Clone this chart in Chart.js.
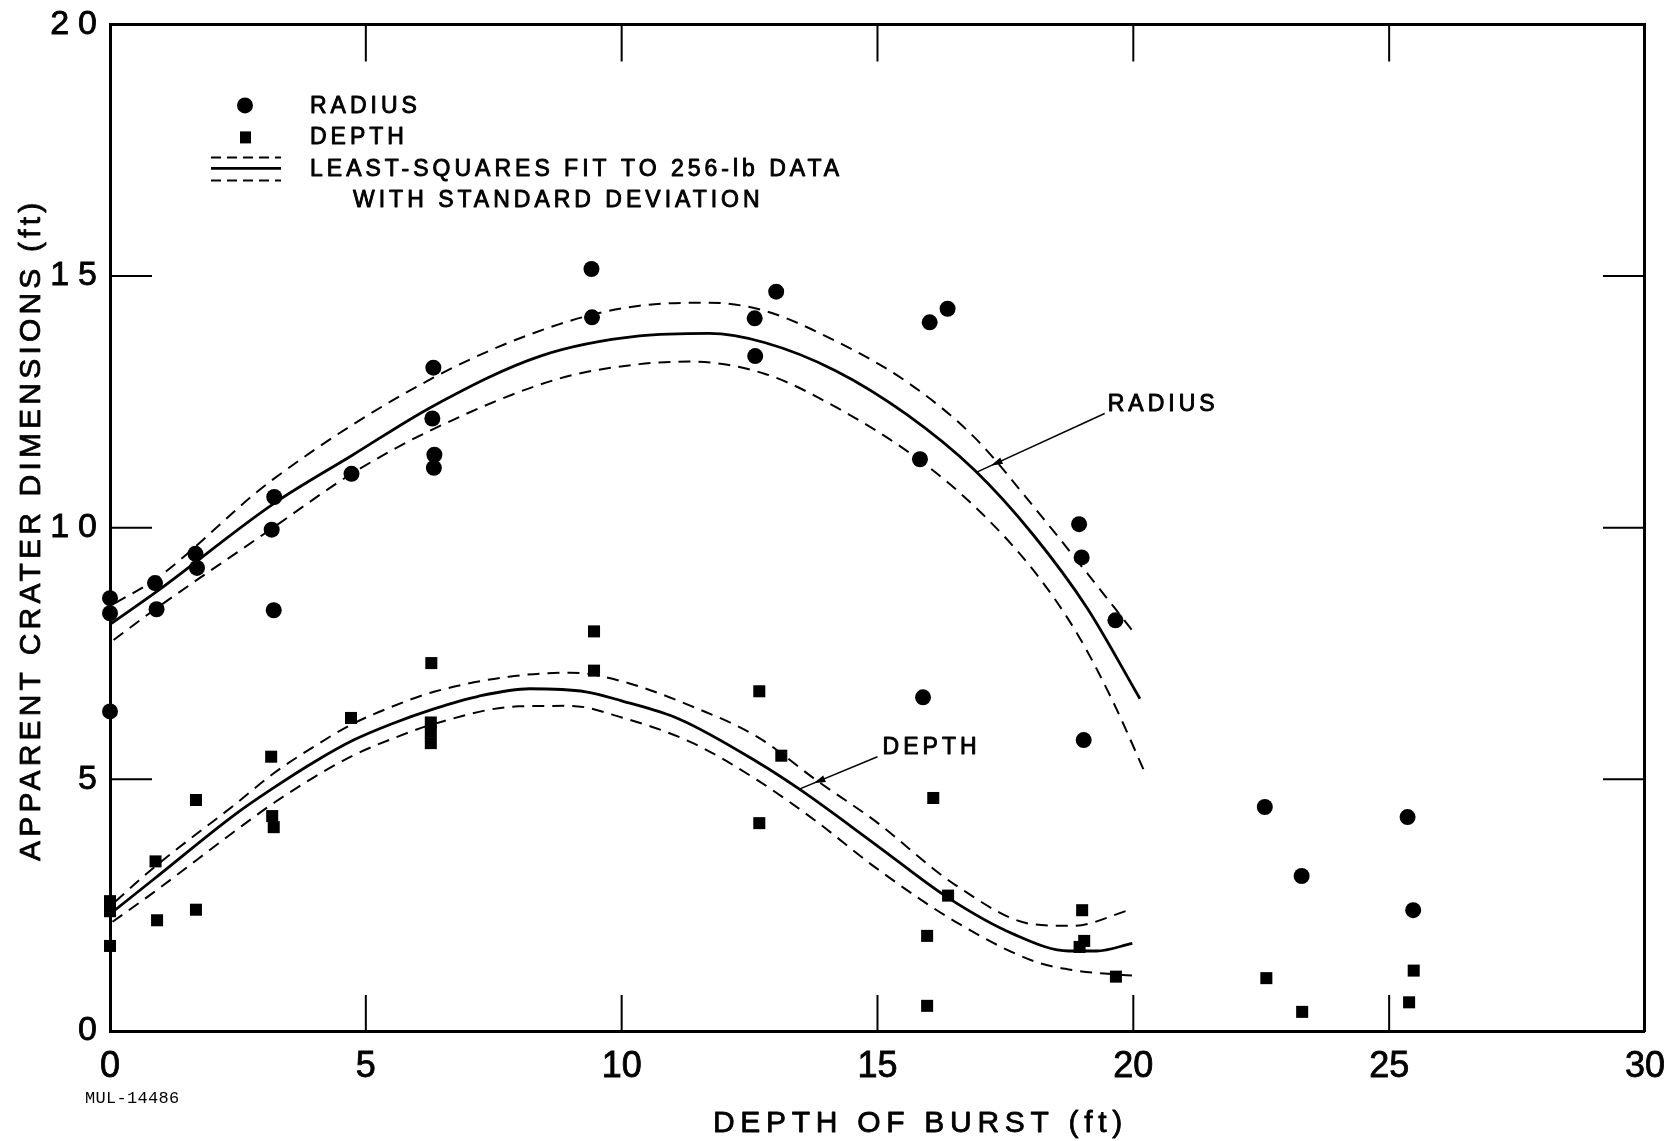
<!DOCTYPE html>
<html>
<head>
<meta charset="utf-8">
<title>Apparent crater dimensions vs depth of burst</title>
<style>
  html, body { margin: 0; padding: 0; background: #fff; }
  canvas { display: block; }
</style>
<script src="https://cdn.jsdelivr.net/npm/chart.js@4.4.1/dist/chart.umd.min.js"></script>
</head>
<body>
<canvas id="crater" width="1679" height="1141"></canvas>
<script>
// ---- data (ft) -------------------------------------------------------------
// measured apparent crater radius [depth of burst, radius]
const radiusPoints = [
  [0, 8.6], [0, 8.3], [0, 6.35], [0.88, 8.9], [0.91, 8.38], [1.67, 9.48], [1.7, 9.2],
  [3.21, 10.61], [3.16, 9.96], [3.2, 8.36], [4.72, 11.07], [6.32, 13.18], [6.3, 12.17],
  [6.34, 11.45], [6.33, 11.19], [9.41, 15.14], [9.42, 14.18], [12.6, 14.16], [12.61, 13.41],
  [13.02, 14.69], [16.02, 14.08], [16.37, 14.35], [15.83, 11.36], [15.89, 6.63],
  [18.94, 10.07], [18.99, 9.41], [19.65, 8.16], [19.03, 5.78],
  [22.57, 4.45], [23.29, 3.08], [25.36, 4.25], [25.47, 2.4]
];
// measured apparent crater depth [depth of burst, depth]
const depthPoints = [
  [0, 2.58], [0, 2.38], [0, 1.69], [0.89, 3.37], [0.92, 2.2], [1.68, 4.59], [1.68, 2.41],
  [3.15, 5.45], [3.17, 4.27], [3.2, 4.05], [4.71, 6.22], [6.28, 7.31], [6.27, 6.13],
  [6.27, 5.95], [6.27, 5.72], [9.46, 7.94], [9.46, 7.16], [12.69, 6.75], [12.69, 4.13],
  [13.12, 5.47], [16.09, 4.63], [16.38, 2.69], [15.97, 1.89], [15.97, 0.5],
  [19.0, 2.4], [19.04, 1.79], [18.95, 1.67], [19.66, 1.08],
  [22.6, 1.05], [23.3, 0.38], [25.48, 1.2], [25.39, 0.57]
];
// least-squares fit to the 256-lb data, with +/- one standard deviation
const radiusFit = [
  [0.03, 8.1], [0.91, 8.73], [3.2, 10.48], [4.72, 11.43], [6.32, 12.42], [8.41, 13.41],
  [10.35, 13.81], [11.71, 13.86], [12.79, 13.68], [14.18, 13.12], [15.57, 12.25],
  [16.89, 11.15], [18.05, 9.85], [19.1, 8.4], [20.13, 6.6]
];
const radiusFitHigh = [
  [0.1, 8.5], [0.91, 8.99], [3.16, 10.94], [6.32, 12.98], [8.77, 14.04], [10.35, 14.41],
  [11.71, 14.47], [12.79, 14.31], [14.18, 13.71], [15.57, 12.9], [16.89, 11.8],
  [18.05, 10.42], [19.0, 9.22], [19.98, 7.96]
];
const radiusFitLow = [
  [0.07, 7.77], [0.91, 8.4], [3.16, 9.98], [4.72, 11.07], [6.32, 11.96], [8.77, 12.96],
  [10.35, 13.25], [11.32, 13.3], [12.79, 13.06], [14.18, 12.4], [15.73, 11.41],
  [16.89, 10.43], [18.05, 9.15], [18.9, 7.9], [19.6, 6.55], [20.25, 5.08]
];
const depthFit = [
  [0.02, 2.34], [0.86, 3.02], [2.44, 4.3], [3.18, 4.82], [4.0, 5.35], [4.76, 5.78],
  [5.5, 6.1], [6.33, 6.4], [7.2, 6.65], [8.2, 6.8], [9.3, 6.74], [10.0, 6.56],
  [11.12, 6.2], [12.66, 5.34], [13.51, 4.78], [14.97, 3.7], [16.39, 2.64], [17.67, 1.92],
  [18.74, 1.59], [19.28, 1.59], [19.98, 1.74]
];
const depthFitHigh = [
  [0.1, 2.57], [0.86, 3.25], [2.44, 4.5], [3.2, 5.12], [4.0, 5.66], [4.7, 6.08],
  [5.5, 6.44], [6.33, 6.74], [7.8, 7.04], [9.0, 7.12], [10.0, 6.95], [11.35, 6.46],
  [12.66, 5.84], [13.81, 4.98], [14.97, 4.16], [16.51, 2.91], [18.05, 2.12],
  [18.82, 2.09], [19.94, 2.41]
];
const depthFitLow = [
  [0.05, 2.17], [0.86, 2.76], [2.44, 3.97], [3.2, 4.53], [4.0, 5.05], [4.76, 5.48],
  [5.5, 5.8], [6.33, 6.1], [7.98, 6.45], [9.0, 6.46], [10.0, 6.23], [11.35, 5.74],
  [12.66, 4.98], [13.81, 4.16], [14.97, 3.24], [16.51, 2.18], [18.05, 1.39],
  [18.82, 1.21], [19.98, 1.1]
];

// axes
const xLimits = [0, 30];
const yLimits = [0, 20];
const tickStep = 5;

// text
const xTitle = 'DEPTH OF BURST (ft)';
const yTitle = 'APPARENT CRATER DIMENSIONS (ft)';
const legendText = ['RADIUS', 'DEPTH', 'LEAST-SQUARES FIT TO 256-lb DATA', 'WITH STANDARD DEVIATION'];
const drawingNumber = 'MUL-14486';

// curve call-outs: label, label anchor, leader start and leader tip (data units)
const callouts = [
  { text: 'RADIUS', label: [19.5, 12.45], from: [19.44, 12.27], to: [16.93, 11.1] },
  { text: 'DEPTH',  label: [15.1, 5.62],  from: [15.0, 5.45],   to: [13.46, 4.8] }
];

// ---- drawing ---------------------------------------------------------------
const FONT = "'Liberation Sans', 'DejaVu Sans', Arial, sans-serif";
const INK = '#000';
const toXY = arr => arr.map(([x, y]) => ({ x, y }));

function spacing(ctx, px) {
  if ('letterSpacing' in ctx) ctx.letterSpacing = px + 'px';
}

// lettering is drawn slightly heavier than the plain font
function letter(ctx, text, x, y, weight) {
  ctx.lineWidth = weight;
  ctx.lineJoin = 'round';
  ctx.strokeText(text, x, y);
  ctx.fillText(text, x, y);
}

function fitLine(label, pts, dashed) {
  return {
    label, data: toXY(pts), showLine: true,
    borderColor: INK, borderWidth: dashed ? 2 : 2.8,
    borderDash: dashed ? [12, 8] : [],
    pointRadius: 0, pointHoverRadius: 0,
    cubicInterpolationMode: 'monotone', clip: false, order: 2
  };
}

// y tick labels are spaced out; x tick labels (drawn after datasets) are not
const spacingPlugin = {
  id: 'tickSpacing',
  beforeDraw(chart) { spacing(chart.ctx, 9); },
  afterDatasetsDraw(chart) { spacing(chart.ctx, 0); }
};

const decorPlugin = {
  id: 'decor',
  afterDraw(chart) {
    const ctx = chart.ctx;
    const xs = chart.scales.x, ys = chart.scales.y;
    const ca = chart.chartArea;
    const px = v => xs.getPixelForValue(v);
    const py = v => ys.getPixelForValue(v);
    ctx.save();
    ctx.strokeStyle = INK;
    ctx.fillStyle = INK;

    // inward tick marks on all four sides
    ctx.lineWidth = 2;
    ctx.beginPath();
    xs.ticks.forEach(t => {
      if (t.value <= xLimits[0] || t.value >= xLimits[1]) return;
      const x = px(t.value);
      ctx.moveTo(x, ca.bottom); ctx.lineTo(x, ca.bottom - 36);
      ctx.moveTo(x, ca.top); ctx.lineTo(x, ca.top + 37);
    });
    ys.ticks.forEach(t => {
      if (t.value <= yLimits[0] || t.value >= yLimits[1]) return;
      const y = py(t.value);
      ctx.moveTo(ca.left, y); ctx.lineTo(ca.left + 42, y);
      ctx.moveTo(ca.right, y); ctx.lineTo(ca.right - 42, y);
    });
    ctx.stroke();

    // legend
    const lx = ca.left, ly = ca.top;
    ctx.beginPath(); ctx.arc(lx + 135, ly + 81, 8, 0, Math.PI * 2); ctx.fill();
    ctx.fillRect(lx + 130, ly + 107, 11, 12);
    ctx.lineWidth = 2;
    ctx.setLineDash([10, 6]);
    ctx.beginPath();
    ctx.moveTo(lx + 101, ly + 133); ctx.lineTo(lx + 171, ly + 133);
    ctx.moveTo(lx + 101, ly + 156); ctx.lineTo(lx + 171, ly + 156);
    ctx.stroke();
    ctx.setLineDash([]);
    ctx.lineWidth = 2.8;
    ctx.beginPath(); ctx.moveTo(lx + 101, ly + 144); ctx.lineTo(lx + 171, ly + 144); ctx.stroke();

    ctx.font = '23px ' + FONT;
    spacing(ctx, 4);
    ctx.textAlign = 'left';
    ctx.textBaseline = 'middle';
    letter(ctx, legendText[0], lx + 200, ly + 82, 0.9);
    letter(ctx, legendText[1], lx + 200, ly + 113, 0.9);
    letter(ctx, legendText[2], lx + 200, ly + 145, 0.9);
    letter(ctx, legendText[3], lx + 243, ly + 176, 0.9);

    // call-outs on the fitted curves
    callouts.forEach(c => {
      const x0 = px(c.from[0]), y0 = py(c.from[1]);
      const x1 = px(c.to[0]), y1 = py(c.to[1]);
      ctx.lineWidth = 1.5;
      ctx.beginPath(); ctx.moveTo(x0, y0); ctx.lineTo(x1, y1); ctx.stroke();
      const a = Math.atan2(y1 - y0, x1 - x0);
      const hx = x1 - Math.cos(a) * 16, hy = y1 - Math.sin(a) * 16;
      ctx.beginPath();
      ctx.moveTo(hx, hy);
      ctx.lineTo(hx - Math.cos(a) * 12 + Math.sin(a) * 3.5, hy - Math.sin(a) * 12 - Math.cos(a) * 3.5);
      ctx.lineTo(hx - Math.cos(a) * 12 - Math.sin(a) * 3.5, hy - Math.sin(a) * 12 + Math.cos(a) * 3.5);
      ctx.closePath(); ctx.fill();
      letter(ctx, c.text, px(c.label[0]), py(c.label[1]), 0.9);
    });

    // axis titles
    ctx.font = '30px ' + FONT;
    ctx.textAlign = 'center';
    spacing(ctx, 5.7);
    letter(ctx, xTitle, (ca.left + ca.right) / 2 + 43, ca.bottom + 93, 0.8);
    spacing(ctx, 4.2);
    ctx.save();
    ctx.translate(32, (ca.top + ca.bottom) / 2 + 2);
    ctx.rotate(-Math.PI / 2);
    letter(ctx, yTitle, 0, 0, 0.8);
    ctx.restore();

    // drawing number
    ctx.font = "17px 'Liberation Mono', 'DejaVu Sans Mono', monospace";
    spacing(ctx, 0.3);
    ctx.textAlign = 'left';
    ctx.fillText(drawingNumber, 85, ca.bottom + 67);

    spacing(ctx, 0);
    ctx.restore();
  }
};

const frameBorder = { display: true, color: INK, width: 3 };

new Chart(document.getElementById('crater'), {
  type: 'scatter',
  data: {
    datasets: [
      { label: 'Radius', data: toXY(radiusPoints), pointStyle: 'circle', pointRadius: 8,
        pointHoverRadius: 8, backgroundColor: INK, borderColor: INK, borderWidth: 0,
        showLine: false, clip: false, order: 0 },
      { label: 'Depth', data: toXY(depthPoints), pointStyle: 'rect', pointRadius: 8.5,
        pointHoverRadius: 8.5, backgroundColor: INK, borderColor: INK, borderWidth: 0,
        showLine: false, clip: false, order: 0 },
      fitLine('Radius fit', radiusFit, false),
      fitLine('Radius fit + SD', radiusFitHigh, true),
      fitLine('Radius fit - SD', radiusFitLow, true),
      fitLine('Depth fit', depthFit, false),
      fitLine('Depth fit + SD', depthFitHigh, true),
      fitLine('Depth fit - SD', depthFitLow, true)
    ]
  },
  options: {
    responsive: false,
    devicePixelRatio: 1,
    animation: false,
    events: [],
    layout: { padding: { top: 20, right: 34, left: 0, bottom: 0 } },
    plugins: { legend: { display: false }, tooltip: { enabled: false } },
    scales: {
      x: {
        type: 'linear', position: 'bottom', min: xLimits[0], max: xLimits[1],
        ticks: { stepSize: tickStep, color: INK, font: { family: FONT, size: 36 },
                 textStrokeColor: INK, textStrokeWidth: 0.8,
                 padding: 14, z: 1, autoSkip: false, maxRotation: 0 },
        grid: { display: false, drawTicks: false },
        border: frameBorder,
        afterFit: s => { s.height = 110; }
      },
      y: {
        type: 'linear', position: 'left', min: yLimits[0], max: yLimits[1],
        ticks: { stepSize: tickStep, color: INK, font: { family: FONT, size: 34 },
                 textStrokeColor: INK, textStrokeWidth: 0.8,
                 padding: 4, autoSkip: false },
        grid: { display: false, drawTicks: false },
        border: frameBorder,
        afterFit: s => { s.width = 110; }
      },
      xTop: {
        type: 'linear', position: 'top', min: xLimits[0], max: xLimits[1],
        ticks: { display: false }, grid: { display: false, drawTicks: false },
        border: frameBorder, afterFit: s => { s.height = 0; }
      },
      yRight: {
        type: 'linear', position: 'right', min: yLimits[0], max: yLimits[1],
        ticks: { display: false }, grid: { display: false, drawTicks: false },
        border: frameBorder, afterFit: s => { s.width = 0; }
      }
    }
  },
  plugins: [spacingPlugin, decorPlugin]
});
</script>
</body>
</html>
